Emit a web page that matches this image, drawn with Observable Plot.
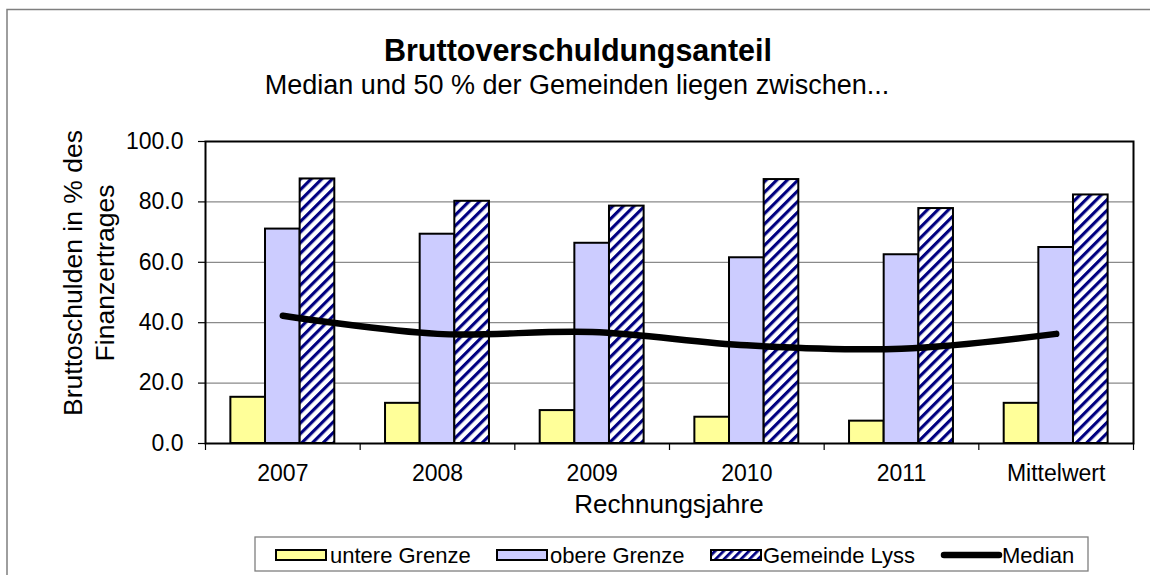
<!DOCTYPE html>
<html>
<head>
<meta charset="utf-8">
<script src="https://cdn.jsdelivr.net/npm/d3@7"></script>
<script src="https://cdn.jsdelivr.net/npm/@observablehq/plot@0.6"></script>
<style>
  html, body { margin: 0; padding: 0; background: #fff; }
  #chart { position: relative; width: 1150px; height: 575px; overflow: hidden; }
</style>
</head>
<body>
<div id="chart"></div>
<script>
// ---- data ----
const categories = ["2007", "2008", "2009", "2010", "2011", "Mittelwert"];
const untereGrenze = [15.3, 13.3, 10.9, 8.7, 7.4, 13.3];
const obereGrenze = [71.0, 69.3, 66.3, 61.5, 62.5, 64.9];
const gemeindeLyss = [87.6, 80.2, 78.6, 87.4, 77.8, 82.3];
const median = [42.3, 36.3, 36.9, 32.5, 31.4, 36.3];
const yTicks = [0, 20, 40, 60, 80, 100];
const seriesNames = ["untere Grenze", "obere Grenze", "Gemeinde Lyss", "Median"];

const rows = categories.map((c, i) => ({
  i, cat: c,
  lower: untereGrenze[i], upper: obereGrenze[i], lyss: gemeindeLyss[i], median: median[i]
}));

const W = 0.224; // bar width as fraction of a category slot
const FONT = "'Liberation Sans', Arial, Helvetica, sans-serif";

const barOpts = (k, field, fill) => ({
  x1: d => d.i + 0.5 + (k - 1.5) * W,
  x2: d => d.i + 0.5 + (k - 0.5) * W,
  y1: 0,
  y2: field,
  fill,
  stroke: "black",
  strokeWidth: 2
});

const plot = Plot.plot({
  width: 1150,
  height: 575,
  marginLeft: 205,
  marginRight: 17,
  marginTop: 141,
  marginBottom: 132,
  style: { fontFamily: FONT, fontSize: "23px", color: "black", background: "white" },
  x: { domain: [0, 6] },
  y: { domain: [0, 100] },
  marks: [
    Plot.gridY([20, 40, 60, 80], { stroke: "#8a8a8a", strokeOpacity: 1, strokeWidth: 1.3 }),
    Plot.rectY(rows, barOpts(0, "lower", "#FFFF99")),
    Plot.rectY(rows, barOpts(1, "upper", "#CCCCFF")),
    Plot.rectY(rows, barOpts(2, "lyss", "url(#hatch)")),
    Plot.line(rows, {
      x: d => d.i + 0.5, y: "median",
      curve: "catmull-rom", stroke: "black", strokeWidth: 6.5,
      strokeLinecap: "round", strokeLinejoin: "round"
    }),
    Plot.frame({ stroke: "black", strokeWidth: 2 }),
    Plot.axisY({
      ticks: yTicks, tickFormat: d => d.toFixed(1), tickSize: 7, tickPadding: 15,
      fontSize: 23, label: null, stroke: "black", strokeWidth: 1.2
    }),
    Plot.axisX({
      ticks: d3.range(0, 7), tickFormat: () => "", tickSize: 7, label: null,
      stroke: "black", strokeWidth: 1.2
    }),
    Plot.axisX({
      ticks: rows.map(d => d.i + 0.5), tickFormat: v => categories[Math.floor(v)],
      tickSize: 0, tickPadding: 21, fontSize: 23, label: null
    })
  ]
});

document.getElementById("chart").appendChild(plot);

const svg = d3.select(plot);

// hatch pattern (wide upward diagonal)
const defs = svg.insert("defs", ":first-child");
function addPattern(id, size, frac) {
  const p = defs.append("pattern")
    .attr("id", id)
    .attr("patternUnits", "userSpaceOnUse")
    .attr("width", size).attr("height", size)
    .attr("patternTransform", "rotate(45)");
  p.append("rect").attr("width", size).attr("height", size).attr("fill", "white");
  p.append("rect").attr("width", size * frac).attr("height", size).attr("fill", "#000080");
}
addPattern("hatch", 7.5, 0.42);
addPattern("hatchSmall", 6, 0.45);

// outer chart border
svg.append("path")
  .attr("d", "M7,575 L7,9.5 L1150,9.5")
  .attr("fill", "none").attr("stroke", "#7f7f7f").attr("stroke-width", 1.5);

// title & subtitle
svg.append("text").text("Bruttoverschuldungsanteil")
  .attr("x", 578).attr("y", 61).attr("text-anchor", "middle")
  .attr("font-family", FONT).attr("font-weight", "bold").attr("font-size", 30.5).attr("fill", "black");
svg.append("text").text("Median und 50 % der Gemeinden liegen zwischen...")
  .attr("x", 577).attr("y", 94).attr("text-anchor", "middle")
  .attr("font-family", FONT).attr("font-size", 27).attr("fill", "black");

// axis titles
const yTitle = svg.append("text")
  .attr("transform", "translate(89,273) rotate(-90)")
  .attr("text-anchor", "middle").attr("font-family", FONT).attr("font-size", 26.5).attr("fill", "black");
yTitle.append("tspan").attr("x", 0).attr("y", -7).text("Bruttoschulden in % des");
yTitle.append("tspan").attr("x", 0).attr("y", 25).text("Finanzertrages");

svg.append("text").text("Rechnungsjahre")
  .attr("x", 669).attr("y", 513).attr("text-anchor", "middle")
  .attr("font-family", FONT).attr("font-size", 26).attr("fill", "black");

// legend
const lg = svg.append("g").attr("text-anchor", "start");
lg.append("rect").attr("x", 255).attr("y", 537).attr("width", 833).attr("height", 34)
  .attr("fill", "white").attr("stroke", "#7f7f7f").attr("stroke-width", 1.3);
const items = [
  { name: seriesNames[0], fill: "#FFFF99", sx: 276, tx: 330 },
  { name: seriesNames[1], fill: "#CCCCFF", sx: 497, tx: 550 },
  { name: seriesNames[2], fill: "url(#hatchSmall)", sx: 711, tx: 763 }
];
items.forEach(it => {
  lg.append("rect").attr("x", it.sx).attr("y", 550).attr("width", 50).attr("height", 10)
    .attr("fill", it.fill).attr("stroke", "black").attr("stroke-width", 2);
  lg.append("text").text(it.name).attr("x", it.tx).attr("y", 562.5).attr("text-anchor", "start")
    .attr("font-family", FONT).attr("font-size", 22).attr("fill", "black");
});
lg.append("line").attr("x1", 944).attr("x2", 999).attr("y1", 555).attr("y2", 555)
  .attr("stroke", "black").attr("stroke-width", 6.5).attr("stroke-linecap", "round");
lg.append("text").text(seriesNames[3]).attr("x", 1002).attr("y", 562.5).attr("text-anchor", "start")
  .attr("font-family", FONT).attr("font-size", 22).attr("fill", "black");
</script>
</body>
</html>
